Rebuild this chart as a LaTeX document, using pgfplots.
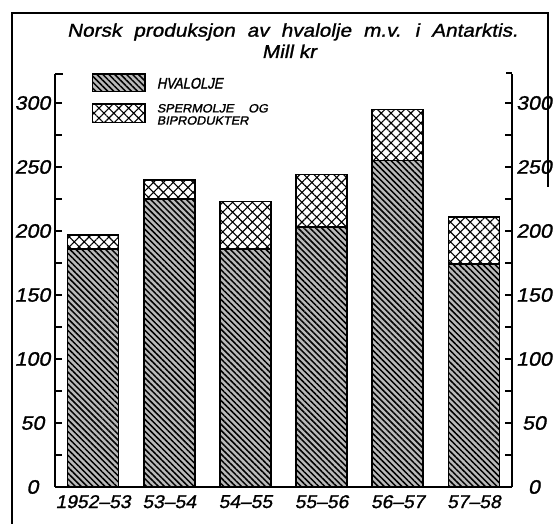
\documentclass[border=0pt]{standalone}
\usepackage{fontspec}
\usepackage{pgfplots}
\usepackage{pgfplotstable}
\pgfplotsset{compat=1.18}
\usetikzlibrary{patterns.meta}
\newfontfamily\yfont{Liberation Sans}[FakeStretch=1.1,FakeSlant=0.2,FakeBold=1.2]
\newfontfamily\xfont{Liberation Sans}[FakeStretch=1.04,FakeSlant=0.2,FakeBold=1.2]
\newfontfamily\tfont{Liberation Sans}[FakeStretch=1.12,FakeSlant=0.2,FakeBold=1.2]
\newfontfamily\lfonta{Liberation Sans}[FakeStretch=0.85,FakeSlant=0.2,FakeBold=1.4]
\newfontfamily\lfontb{Liberation Sans}[FakeStretch=1.06,FakeSlant=0.2,FakeBold=1.4]

\pgfplotstableread{
x whale sperm
0 186 11
1 225 15
2 186 37
3 203 41
4 255 40
5 174 37
}\data

\tikzset{
  darkfill/.style={fill=gray!55, postaction={pattern={Lines[angle=-45,distance=4.2bp,line width=1.5bp]}}},
  crossfill/.style={fill=white, postaction={pattern={Hatch[angle=45,distance=7bp,line width=1.1bp]}}},
}

\begin{document}
\begin{tikzpicture}[x=1bp,y=1bp]
\path[use as bounding box] (-55,-37) rectangle (499,487);
\draw[line width=1.5bp] (-43,-37) -- (-43,474) -- (493,474) -- (493,300);

\begin{axis}[
  at={(0,0)}, anchor=south west,
  scale only axis, width=457bp, height=413bp,
  xmin=-0.5, xmax=5.5, ymin=0, ymax=322.66,
  axis x line*=bottom, axis y line*=left,
  ybar stacked, bar width=51bp,
  xtick=data,
  xticklabels={1952–53,53–54,54–55,55–56,56–57,57–58},
  major x tick style={draw=none},
  ytick={0,50,...,300}, minor ytick={25,75,...,275},
  tick align=inside, major tick length=7bp, minor tick length=7bp,
  tick style={line width=1.2bp, black},
  axis line style={line width=1.6bp},
  /pgf/number format/assume math mode=true,
  yticklabel style={anchor=center, xshift=-22.5bp, font=\yfont\fontsize{19.5}{19.5}\selectfont},
  xticklabel style={anchor=center, yshift=-14.7bp, font=\xfont\fontsize{18.6}{18.6}\selectfont},
]
\addplot[draw=black, line width=1.6bp, darkfill] table[x=x,y=whale]{\data};
\addplot[draw=black, line width=1.6bp, crossfill] table[x=x,y=sperm]{\data};
\end{axis}

\begin{axis}[
  at={(0,0)}, anchor=south west,
  scale only axis, width=457bp, height=413bp,
  xmin=-0.5, xmax=5.5, ymin=0, ymax=322.66,
  axis x line=none, axis y line*=right,
  ytick={0,50,...,300}, minor ytick={25,75,...,275},
  tick align=inside, major tick length=7bp, minor tick length=7bp,
  tick style={line width=1.2bp, black},
  axis line style={line width=1.6bp},
  /pgf/number format/assume math mode=true,
  yticklabel style={anchor=center, xshift=22bp, font=\yfont\fontsize{19.5}{19.5}\selectfont},
]
\end{axis}

% axis-top hooks
\draw[line width=1.6bp] (0,413) -- (8,413);
\draw[line width=1.6bp] (457,414) -- (451,414);
% legend
\draw[line width=1.2bp, darkfill] (37.7,395.3) rectangle (90,413);
\draw[line width=1.2bp, crossfill] (37.7,364.3) rectangle (90,383);
\node[anchor=west, inner sep=0pt, font=\lfonta\fontsize{15.4}{15.4}\selectfont] at (101.7,403.7) {HVALOLJE};
\node[anchor=west, inner sep=0pt, font=\lfontb\fontsize{12}{12}\selectfont] at (101.7,378.7) {SPERMOLJE};
\node[anchor=west, inner sep=0pt, font=\lfontb\fontsize{12}{12}\selectfont] at (193,378.7) {OG};
\node[anchor=west, inner sep=0pt, font=\lfontb\fontsize{12}{12}\selectfont] at (101.7,366.5) {BIPRODUKTER};
% title
\node[anchor=base, inner sep=0pt, font=\tfont\fontsize{18.6}{18.6}\selectfont] at (237.5,450.3) {\spaceskip=12bp plus 0bp Norsk produksjon av hvalolje m.v. i Antarktis.};
\node[anchor=base, inner sep=0pt, font=\tfont\fontsize{18.6}{18.6}\selectfont] at (234,429) {Mill kr};
\end{tikzpicture}
\end{document}
